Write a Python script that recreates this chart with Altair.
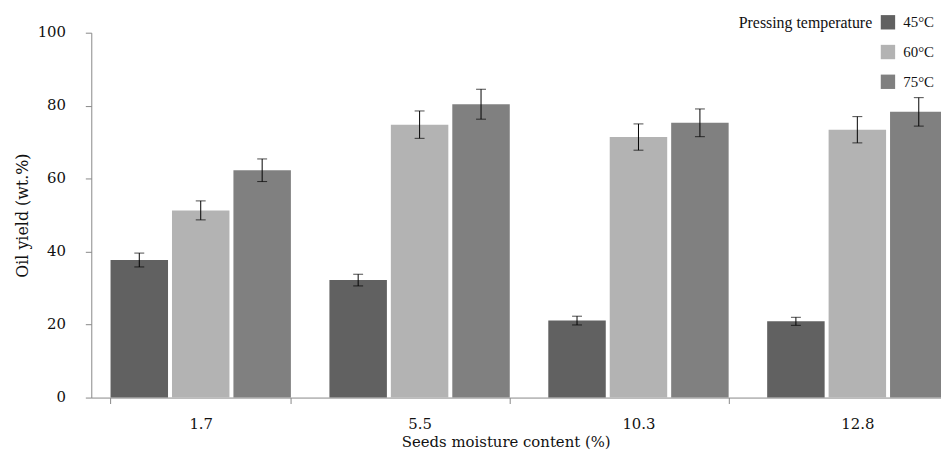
import altair as alt
import pandas as pd

moisture = ["1.7", "5.5", "10.3", "12.8"]
temps = ["45°C", "60°C", "75°C"]
yield_45 = [37.7, 32.2, 21.1, 20.9]
yield_60 = [51.3, 74.8, 71.4, 73.4]
yield_75 = [62.3, 80.4, 75.3, 78.3]
err_45 = [1.9, 1.6, 1.2, 1.1]
err_60 = [2.6, 3.75, 3.6, 3.6]
err_75 = [3.1, 4.1, 3.8, 3.9]
colors = ["#616161", "#b3b3b3", "#808080"]
y_ticks = [0, 20, 40, 60, 80, 100]

rows = []
for t, vals, errs in zip(temps, [yield_45, yield_60, yield_75], [err_45, err_60, err_75]):
    for m, v, e in zip(moisture, vals, errs):
        rows.append({"moisture": m, "temp": t, "value": v, "lo": v - e, "hi": v + e})
df = pd.DataFrame(rows)

FONT = "DejaVu Serif"
LFONT = "Liberation Serif"

base = alt.Chart(df).encode(
    x=alt.X(
        "moisture:N",
        sort=moisture,
        scale=alt.Scale(range=[0, 883], paddingInner=0.176, paddingOuter=0.088),
        axis=alt.Axis(
            title="Seeds moisture content (%)",
            labelAngle=0,
            tickBand="extent",
            tickSize=6,
            labelPadding=13,
            labelFontSize=15,
            titleFontSize=15,
            titleX=418,
            titleY=49,
            titleBaseline="alphabetic",
        ),
    ),
    xOffset=alt.XOffset(
        "temp:N", sort=temps, scale=alt.Scale(paddingInner=0.0645, paddingOuter=0)
    ),
)

bars = base.mark_bar().encode(
    y=alt.Y(
        "value:Q",
        scale=alt.Scale(domain=[0, 100]),
        axis=alt.Axis(
            values=y_ticks,
            title="Oil yield (wt.%)",
            tickSize=6,
            labelPadding=20,
            labelFontSize=15,
            labelOffset=-1,
            titleFontSize=16,
            titleX=-64,
            titleY=184,
            titleBaseline="alphabetic",
            grid=False,
        ),
    ),
    color=alt.Color(
        "temp:N",
        sort=temps,
        scale=alt.Scale(domain=temps, range=colors),
        legend=alt.Legend(
            title="Pressing temperature",
            orient="none",
            legendX=653,
            legendY=-18,
            titleOrient="left",
            titleAnchor="start",
            titlePadding=8,
            symbolType="square",
            symbolSize=210,
            symbolStrokeWidth=0,
            labelOffset=8,
            rowPadding=14,
            labelFontSize=15,
            titleFontSize=16,
        ),
    ),
)

rules = base.mark_rule(color="black", strokeWidth=1).encode(y="lo:Q", y2="hi:Q")
cap_lo = base.mark_tick(color="black", thickness=1, size=10).encode(y="lo:Q")
cap_hi = base.mark_tick(color="black", thickness=1, size=10).encode(y="hi:Q")

chart = (
    alt.layer(bars, rules, cap_lo, cap_hi)
    .properties(
        width=857,
        height=368,
        autosize=alt.AutoSizeParams(type="none"),
        padding={"left": 84, "top": 23, "right": 0, "bottom": 54},
    )
    .configure(font=FONT)
    .configure_view(strokeOpacity=0)
    .configure_axis(
        domainColor="#888888",
        tickColor="#888888",
        labelColor="#111111",
        titleColor="#111111",
        labelFont=FONT,
        titleFont=FONT,
        titleFontWeight="normal",
    )
    .configure_legend(
        labelFont=LFONT,
        titleFont=LFONT,
        titleFontWeight="normal",
        labelColor="#111111",
        titleColor="#111111",
    )
)

chart.save("out.html", embed_options={"renderer": "svg", "actions": False})
